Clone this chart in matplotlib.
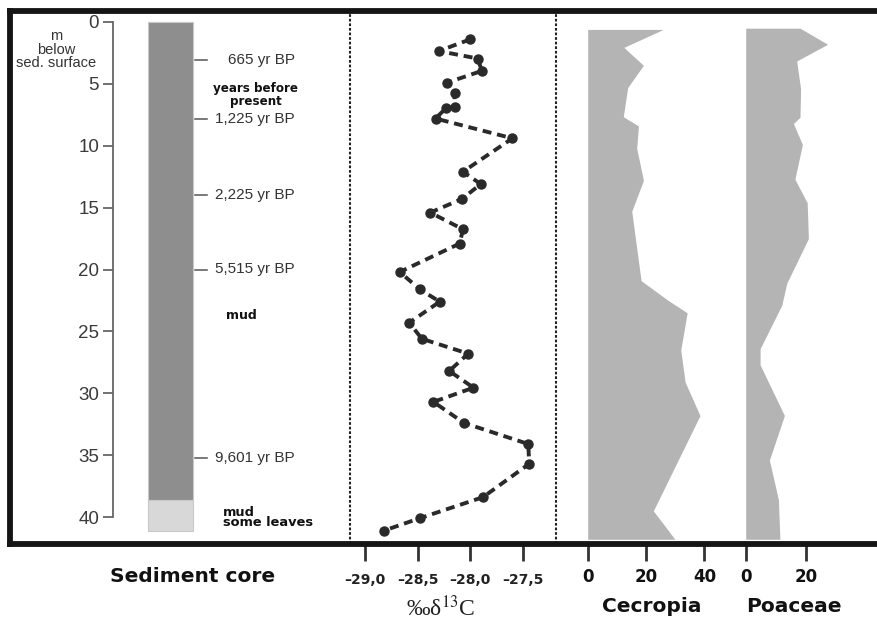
import matplotlib
matplotlib.use("Agg")
import matplotlib.pyplot as plt
import numpy as np

plt.rcParams['font.family'] = ['Liberation Sans', 'DejaVu Sans']
plt.rcParams['mathtext.fontset'] = 'stix'

# ---------------- data ----------------
depth_ticks = [0, 5, 10, 15, 20, 25, 30, 35, 40]
core_layers_top = [0.0, 38.6]
core_layers_bot = [38.6, 41.1]
core_layer_colors = ['#8e8e8e', '#d8d8d8']

age_depths = [3.1, 7.8, 14.0, 20.0, 35.2]
age_labels = ['665 yr BP', '1,225 yr BP', '2,225 yr BP', '5,515 yr BP', '9,601 yr BP']

d13c_depth = [1.4, 2.35, 2.95, 3.95, 4.9, 5.75, 6.85, 6.95, 7.8, 9.4, 12.1, 13.1,
              14.3, 15.4, 16.75, 17.9, 20.2, 21.6, 22.6, 24.3, 25.6, 26.8, 28.2,
              29.55, 30.7, 32.4, 34.1, 35.7, 38.4, 40.1, 41.1]
d13c_value = [-28.00, -28.30, -27.93, -27.89, -28.22, -28.15, -28.15, -28.23, -28.33,
              -27.60, -28.07, -27.90, -28.08, -28.38, -28.07, -28.10, -28.67, -28.48,
              -28.29, -28.58, -28.46, -28.02, -28.20, -27.97, -28.35, -28.06, -27.45,
              -27.44, -27.88, -28.48, -28.82]
d13c_ticks = [-29.0, -28.5, -28.0, -27.5]
d13c_ticklabels = ['\u201329,0', '\u201328,5', '\u201328,0', '\u201327,5']

cecropia_depth = [0.6, 2.05, 3.5, 5.3, 7.65, 8.4, 10.2, 12.8, 15.3, 20.9, 22.5, 23.5,
                  26.5, 29.1, 31.8, 39.5, 41.8]
cecropia_value = [25.9, 12.4, 19.1, 13.7, 12.2, 17.4, 16.8, 19.1, 15.1, 18.3, 27.6, 34.1,
                  31.9, 33.4, 38.5, 22.5, 29.9]
cecropia_ticks = [0, 20, 40]

poaceae_depth = [0.5, 1.8, 3.15, 5.4, 7.7, 8.2, 9.9, 12.7, 14.6, 17.5, 21.1, 22.9, 26.4,
                 27.7, 31.8, 35.4, 38.6, 41.8]
poaceae_value = [18.1, 27.3, 17.0, 18.3, 18.1, 15.9, 18.9, 16.4, 20.5, 20.9, 13.7, 12.0,
                 4.8, 4.8, 12.9, 7.9, 10.9, 11.4]
poaceae_ticks = [0, 20]

depth_unit_lines = ['m', 'below', 'sed. surface']

HEAVY = ['DejaVu Sans']

# ---------------- layout helpers ----------------
W, H = 877, 620
fig = plt.figure(figsize=(W / 100, H / 100), dpi=100)

Y_TOP, Y_BOT = 11, 544
PX0, PXM = 22.0, 12.375  # depth 0 pixel, pixels per metre


def px2depth(y):
    return (y - PX0) / PXM


YLIM = (px2depth(Y_BOT), px2depth(Y_TOP))


def px_axes(x0, x1, y0=Y_TOP, y1=Y_BOT, **kw):
    return fig.add_axes([x0 / W, 1 - y1 / H, (x1 - x0) / W, (y1 - y0) / H], **kw)


def clean(ax):
    ax.set_facecolor('none')
    for s in ax.spines.values():
        s.set_visible(False)
    ax.set_ylim(*YLIM)


# ---------------- sediment core panel ----------------
axc = px_axes(113, 350)
clean(axc)
axc.set_xlim(113, 350)
axc.spines['left'].set_visible(True)
axc.spines['left'].set_bounds(0, 40)
axc.spines['left'].set_color('#666666')
axc.spines['left'].set_linewidth(1.3)
axc.set_yticks(depth_ticks)
axc.tick_params(axis='y', direction='out', length=7, width=1.3, color='#666666',
                labelsize=13.5, labelcolor='#3a3a3a', pad=3)
axc.set_xticks([])

for top, bot, col in zip(core_layers_top, core_layers_bot, core_layer_colors):
    axc.fill_betweenx([top, bot], 148, 193, color=col, edgecolor='#c8c8c8', lw=0.8)

for d, lab in zip(age_depths, age_labels):
    axc.plot([195, 207], [d, d], color='#555555', lw=1.1)
    axc.text(295, d, lab, fontsize=11, color='#333333', va='center', ha='right')

axc.text(256, 5.9, 'years before\npresent', fontsize=8.6, fontweight='bold',
         family=HEAVY, ha='center', va='center', linespacing=0.95, color='#111111')
axc.text(226, 23.7, 'mud', fontsize=9, fontweight='bold', family=HEAVY,
         ha='left', va='center', color='#111111')
axc.text(223, 40.05, 'mud\nsome leaves', fontsize=9.4, fontweight='bold', family=HEAVY,
         ha='left', va='center', linespacing=0.72, color='#111111')

for i, line in enumerate(depth_unit_lines):
    fig.text(56 / W, 1 - (36 + 13.5 * i) / H, line, fontsize=10.5, ha='center',
             va='center', color='#333333')
fig.text(193 / W, 1 - 576 / H, 'Sediment core', fontsize=14.5, fontweight='bold',
         family=HEAVY, ha='center', va='center', color='#111111')

# ---------------- delta 13C panel ----------------
axd = px_axes(350, 556)
clean(axd)
axd.set_xlim(-29 + (350 - 365) / 105.3, -29 + (556 - 365) / 105.3)
xl = axd.get_xlim()
for xv in xl:
    axd.axvline(xv, color='#222222', lw=1.5, ls=(0, (1.3, 0.9)), clip_on=False)
axd.set_xlim(*xl)
axd.set_yticks([])
axd.set_xticks(d13c_ticks)
axd.set_xticklabels(d13c_ticklabels)
axd.tick_params(axis='x', direction='out', length=12, width=2, color='#333333',
                labelsize=10, pad=9)
for t in axd.get_xticklabels():
    t.set_fontweight('bold')
    t.set_family(HEAVY)
    t.set_color('#222222')
axd.plot(d13c_value, d13c_depth, color='#2a2a2a', lw=2.8, ls='--', dashes=(2.3, 1.5),
         marker='o', ms=6.5, mfc='#2a2a2a', mec='#2a2a2a', clip_on=False)
fig.text(441 / W, 1 - 608 / H, '\u2030\u03b4$^{13}$C', fontsize=17, ha='center',
         va='center', family=['Liberation Serif', 'DejaVu Serif'], color='#222222')

# ---------------- pollen panels ----------------
def pollen(x0, x1, zero_px, px_per, depth, vals, ticks, name, name_x):
    ax = px_axes(x0, x1)
    clean(ax)
    ax.set_xlim((x0 - zero_px) / px_per, (x1 - zero_px) / px_per)
    ax.fill_betweenx(depth, 0, vals, color='#b4b4b4', lw=0)
    ax.set_yticks([])
    ax.set_xticks(ticks)
    ax.tick_params(axis='x', direction='out', length=12, width=2, color='#333333',
                   labelsize=12, pad=5)
    for t in ax.get_xticklabels():
        t.set_fontweight('bold')
        t.set_family(HEAVY)
        t.set_color('#111111')
    fig.text(name_x / W, 1 - 606 / H, name, fontsize=14.5, fontweight='bold',
             family=HEAVY, ha='center', va='center', color='#111111')
    return ax


pollen(556, 742, 587.7, 2.917, cecropia_depth, cecropia_value, cecropia_ticks,
       'Cecropia', 652)
pollen(742, 877, 745.7, 3.0, poaceae_depth, poaceae_value, poaceae_ticks,
       'Poaceae', 794)

# ---------------- outer frame ----------------
axf = px_axes(10, 900)
axf.set_facecolor('none')
axf.set_xticks([])
axf.set_yticks([])
for side, s in axf.spines.items():
    s.set_linewidth(4.2)
    s.set_color('#151515')
axf.spines['right'].set_visible(False)

fig.savefig('out.png', dpi=100, facecolor='white')
